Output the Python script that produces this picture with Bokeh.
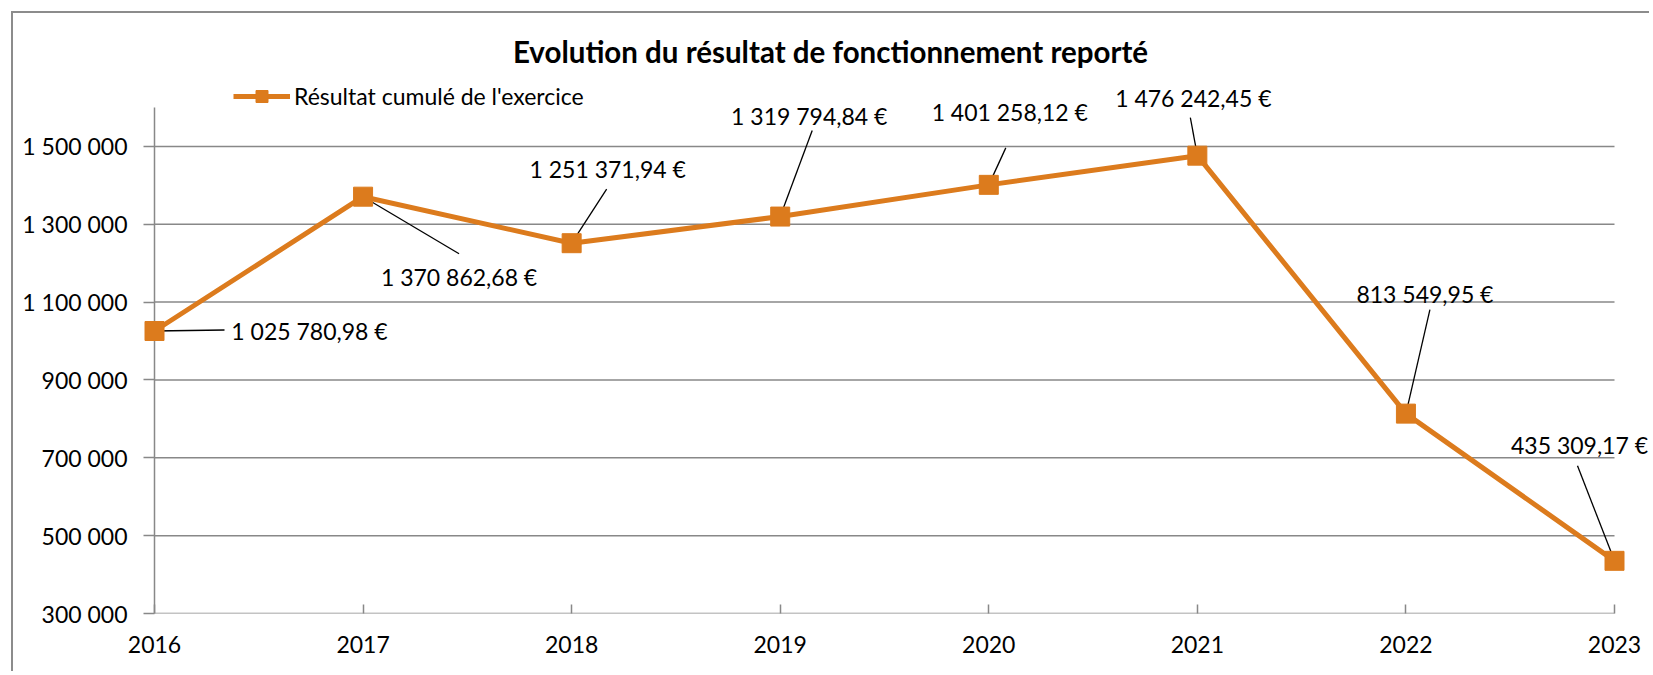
from bokeh.plotting import figure
from bokeh.models import Range1d, FixedTicker, Label, Legend, LegendItem
from bokeh.embed import file_html
from bokeh.resources import INLINE

# ---------------- data ----------------
years = [2016, 2017, 2018, 2019, 2020, 2021, 2022, 2023]
resultat = [1025780.98, 1370862.68, 1251371.94, 1319794.84,
            1401258.12, 1476242.45, 813549.95, 435309.17]
value_labels = ["1 025 780,98 €", "1 370 862,68 €", "1 251 371,94 €", "1 319 794,84 €",
                "1 401 258,12 €", "1 476 242,45 €", "813 549,95 €", "435 309,17 €"]
y_ticks = [300000, 500000, 700000, 900000, 1100000, 1300000, 1500000]
y_tick_labels = ["300 000", "500 000", "700 000", "900 000", "1 100 000", "1 300 000", "1 500 000"]
x_tick_labels = ["2016", "2017", "2018", "2019", "2020", "2021", "2022", "2023"]
series_name = "Résultat cumulé de l'exercice"
chart_title = "Evolution du résultat de fonctionnement reporté"

# ---------------- styling / placement (page pixels) ----------------
FONT = "Lato"
FS = "23px"
ORANGE = "#DC7B1D"
GRID = "#888888"
MARGIN = 11                 # outer margin before the chart border
BORDER = 2
ORIGIN = MARGIN + BORDER    # canvas top-left on the page
W, H = 1638, 660
X_FIRST_PX, X_LAST_PX = 154, 1614   # page x of first / last category
Y_TOP_PX, Y_BOT_PX = 107, 613       # page y of axis top / bottom
Y_MIN, Y_MAX = 300000, 1600000
PAD = 11                            # frame beyond first category (tick length)

ppx = (X_LAST_PX - X_FIRST_PX) / (years[-1] - years[0])
ppy = (Y_BOT_PX - Y_TOP_PX) / (Y_MAX - Y_MIN)

frame_left_px = X_FIRST_PX - PAD
ML = frame_left_px - ORIGIN
MB = ORIGIN + H - Y_BOT_PX
x_lo = years[0] - PAD / ppx
x_hi = years[-1] + (ORIGIN + W - X_LAST_PX) / ppx
y_hi = Y_MAX + (Y_TOP_PX - ORIGIN) / ppy


def px_to_x(px):
    return years[0] + (px - X_FIRST_PX) / ppx


def py_to_y(py):
    return Y_MAX + (Y_TOP_PX - py) / ppy


# label offsets (px, right / down) and leader-line end offsets
label_dx = [155, 96, 36, 29, 21, -4, 19, -35]
label_dy = [0, 80, -74, -101, -73, -58, -120, -116]
leader_dx = [70, 96, 35, 32, 17, -7, 24, -37]
leader_dy = [-1, 57, -54, -86, -37, -38, -104, -95]

p = figure(width=W, height=H,
           x_range=Range1d(x_lo, x_hi), y_range=Range1d(Y_MIN, y_hi),
           output_backend="svg", toolbar_location=None,
           min_border_left=ML, min_border_right=0,
           min_border_top=0, min_border_bottom=MB)
p.margin = (MARGIN, 0, 0, MARGIN)
p.styles = {"border-top": "2px solid #8c8c8c", "border-left": "2px solid #8c8c8c"}
p.outline_line_color = None
p.background_fill_color = "white"
p.border_fill_color = "white"
p.xgrid.visible = False
p.ygrid.visible = False

# grid lines (from first to last category) and y-axis line
p.segment(x0=[years[0]] * len(y_ticks), y0=y_ticks, x1=[years[-1]] * len(y_ticks), y1=y_ticks,
          line_color=GRID, line_width=1.5)
p.segment(x0=[years[0]], y0=[Y_MIN], x1=[years[0]], y1=[Y_MAX], line_color=GRID, line_width=1.5)

# axes
yax = p.yaxis[0]
yax.ticker = FixedTicker(ticks=y_ticks)
yax.major_label_overrides = {t: l for t, l in zip(y_ticks, y_tick_labels)}
yax.axis_line_color = None
yax.major_tick_line_color = GRID
yax.major_tick_line_width = 1.5
yax.major_tick_in = PAD
yax.major_tick_out = 0
yax.minor_tick_line_color = None
yax.major_label_standoff = 16
yax.major_label_text_font = FONT
yax.major_label_text_font_size = FS
yax.major_label_text_color = "black"

xax = p.xaxis[0]
xax.ticker = FixedTicker(ticks=years)
xax.major_label_overrides = {t: l for t, l in zip(years, x_tick_labels)}
xax.axis_line_color = None
xax.major_tick_line_color = GRID
xax.major_tick_line_width = 1.5
xax.major_tick_in = 9
xax.major_tick_out = 0
xax.minor_tick_line_color = None
xax.major_label_standoff = 22
xax.major_label_text_font = FONT
xax.major_label_text_font_size = FS
xax.major_label_text_color = "black"

# leader lines
lx1 = [x + dx / ppx for x, dx in zip(years, leader_dx)]
ly1 = [v - dy / ppy for v, dy in zip(resultat, leader_dy)]
p.segment(x0=years, y0=resultat, x1=lx1, y1=ly1, line_color="black", line_width=1.3)

# series
line_r = p.line(years, resultat, line_color=ORANGE, line_width=5)
mark_r = p.scatter(years, resultat, marker="square", size=19,
                   fill_color=ORANGE, line_color=ORANGE)

# data labels
for x, v, txt, dx, dy in zip(years, resultat, value_labels, label_dx, label_dy):
    p.add_layout(Label(x=x + dx / ppx, y=v - dy / ppy, text=txt,
                       text_align="center", text_baseline="middle",
                       text_font=FONT, text_font_size=FS, text_color="black"))

# title
p.add_layout(Label(x=px_to_x(830), y=py_to_y(51), text=chart_title,
                   text_align="center", text_baseline="middle",
                   text_font=FONT, text_font_style="bold", text_font_size="29.5px",
                   text_color="black"))

# legend (location: px from frame left, px from frame bottom to legend bottom)
legend = Legend(items=[LegendItem(label=series_name, renderers=[line_r, mark_r])],
                location=(233 - frame_left_px, Y_BOT_PX - 111), orientation="horizontal",
                glyph_width=57, glyph_height=30, label_height=30, label_standoff=4,
                padding=0, margin=0, spacing=0,
                border_line_color=None, background_fill_alpha=0,
                label_text_font=FONT, label_text_font_size=FS, label_text_color="black")
p.add_layout(legend)

open("out.html", "w").write(file_html(p, INLINE))
